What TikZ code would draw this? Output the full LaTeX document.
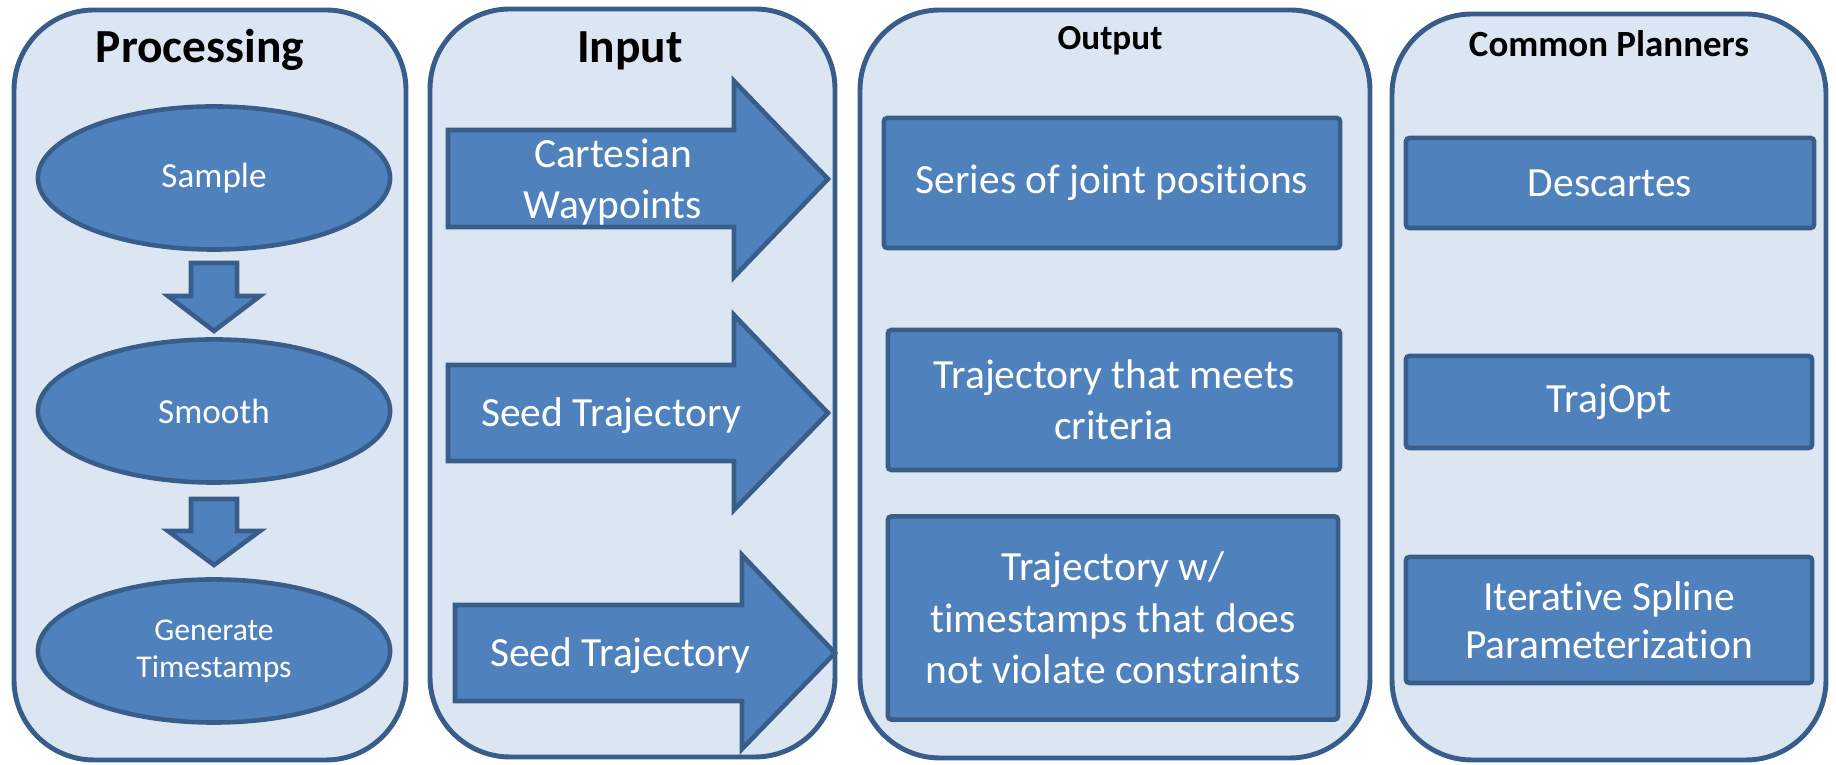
\documentclass[tikz,border=0pt]{standalone}
\usepackage{fontspec}
\setmainfont{Carlito}[Ligatures = NoCommon, Contextuals = NoAlternate]
\usetikzlibrary{shapes.geometric}

\definecolor{panelfill}{HTML}{DCE6F2}
\definecolor{edgeblue}{HTML}{385D8A}
\definecolor{shapeblue}{HTML}{4F81BD}

\tikzset{
  panel/.style = {draw = edgeblue, line width = 1.4pt, fill = panelfill, rounded corners = 0.8cm},
  heading/.style = {anchor = base, text = black, inner sep = 0pt},
  blob/.style = {ellipse, draw = edgeblue, line width = 1.3pt, fill = shapeblue, text = white, align = center, inner sep = 0pt, minimum width = 3.52cm, minimum height = 1.43cm},
  stepbox/.style = {draw = edgeblue, line width = 1.3pt, fill = shapeblue, text = white, align = center, inner sep = 0pt, rounded corners = 1pt, font = \fontsize{11.8}{14.6}\selectfont},
  blockarrow/.style = {draw = edgeblue, line width = 1.3pt, fill = shapeblue},
  arrowtext/.style = {text = white, align = center, inner sep = 0pt, font = \fontsize{11.8}{14.6}\selectfont}
}

\begin{document}
\begin{tikzpicture}[x = 0.01cm, y = -0.01cm]

  \useasboundingbox (0, 0) rectangle (1836, 765);

  % Panels
  \draw[panel] (14, 10) rectangle (406, 760);
  \draw[panel] (430, 9) rectangle (835, 757);
  \draw[panel] (860, 10) rectangle (1370, 758);
  \draw[panel] (1392, 14) rectangle (1826, 760);

  % Headings
  \node[heading, font = \bfseries\fontsize{13.5}{16}\selectfont] (processing) at (200, 63) {Processing};
  \node[heading, font = \bfseries\fontsize{13.5}{16}\selectfont] (input) at (630, 63) {Input};
  \node[heading, font = \bfseries\fontsize{10}{12}\selectfont] (output) at (1110, 50) {Output};
  \node[heading, font = \bfseries\fontsize{10.5}{12}\selectfont] (planners) at (1609, 57) {Common Planners};

  % Processing steps
  \node[blob, font = \fontsize{10}{12}\selectfont] (sample) at (214, 178) {Sample};
  \node[blob, font = \fontsize{10}{12}\selectfont] (smooth) at (214, 411) {Smooth};
  \node[blob, font = \fontsize{9}{10.6}\selectfont] (timestamps) at (214, 651) {Generate\\Timestamps};

  \draw[blockarrow] (191, 263) -- (237, 263) -- (237, 296) -- (260, 296) -- (214, 331) -- (168, 296) -- (191, 296) -- cycle;
  \draw[blockarrow] (191, 499) -- (237, 499) -- (237, 531) -- (260, 531) -- (214, 565) -- (168, 531) -- (191, 531) -- cycle;

  % Input arrows
  \draw[blockarrow] (448, 130) -- (734, 130) -- (734, 81) -- (828, 179) -- (734, 277) -- (734, 227) -- (448, 227) -- cycle;
  \draw[blockarrow] (448, 365) -- (734, 365) -- (734, 315) -- (828, 413) -- (734, 510) -- (734, 461) -- (448, 461) -- cycle;
  \draw[blockarrow] (455, 605) -- (742, 605) -- (742, 555) -- (835, 653) -- (742, 749) -- (742, 701) -- (455, 701) -- cycle;

  \node[arrowtext] (cartesian) at (613, 182) {Cartesian\\Waypoints};
  \node[arrowtext] (seed) at (611, 416) {Seed Trajectory};
  \node[arrowtext] (seedtimed) at (620, 656) {Seed Trajectory};

  % Output boxes
  \node[stepbox, minimum width = 4.56cm, minimum height = 1.30cm] (series) at (1112, 183) {Series of joint positions};
  \node[stepbox, minimum width = 4.52cm, minimum height = 1.40cm] (meets) at (1114, 400) {Trajectory that meets\\criteria};
  \node[stepbox, minimum width = 4.50cm, minimum height = 2.03cm] (timed) at (1113, 618) {Trajectory w/\\timestamps that does\\not violate constraints};

  % Planner boxes
  \node[stepbox, minimum width = 4.08cm, minimum height = 0.90cm] (descartes) at (1610, 183) {Descartes};
  \node[stepbox, minimum width = 4.06cm, minimum height = 0.92cm] (trajopt) at (1609, 402) {TrajOpt};
  \node[stepbox, minimum width = 4.06cm, minimum height = 1.26cm, font = \fontsize{11.8}{13.6}\selectfont] (spline) at (1609, 620) {Iterative Spline\\Parameterization};

\end{tikzpicture}
\end{document}
